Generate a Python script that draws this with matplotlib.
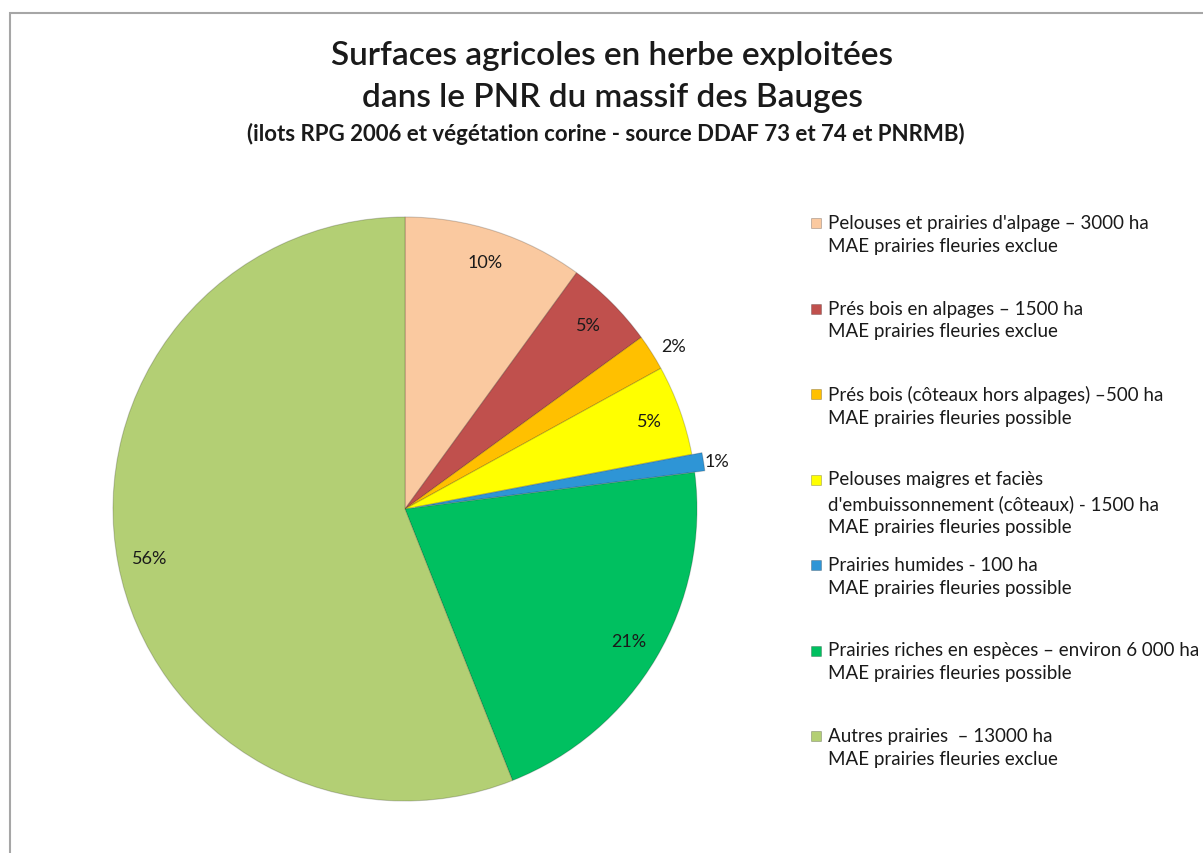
import numpy as np
import matplotlib.pyplot as plt
from matplotlib.patches import Rectangle

# data (percent of grassland area)
categories = [
    "Pelouses et prairies d'alpage – 3000 ha\nMAE prairies fleuries exclue",
    "Prés bois en alpages – 1500 ha\nMAE prairies fleuries exclue",
    "Prés bois (côteaux hors alpages) –500 ha\nMAE prairies fleuries possible",
    "Pelouses maigres et faciès\nd'embuissonnement (côteaux) - 1500 ha\nMAE prairies fleuries possible",
    "Prairies humides - 100 ha\nMAE prairies fleuries possible",
    "Prairies riches en espèces – environ 6 000 ha\nMAE prairies fleuries possible",
    "Autres prairies  – 13000 ha\nMAE prairies fleuries exclue",
]
shares = [10, 5, 2, 5, 1, 21, 56]
colors = ["#FAC9A0", "#C0504D", "#FFC000", "#FFFF00", "#2E95D6", "#00C060", "#B3CF74"]
explode = [0, 0, 0, 0, 0.035, 0, 0]
outside = [False, False, True, False, True, False, False]

FONT = "Lato"
TXT = "#1a1a1a"

W, H = 1203, 854
fig = plt.figure(figsize=(W / 100, H / 100), dpi=100)

# chart frame
fig.patches.append(Rectangle((10 / W, -0.1), 1.2, 1 - 14 / H + 0.1, transform=fig.transFigure,
                             fill=False, edgecolor="#A6A6A6", linewidth=1.5))

# pie axes: center (405, 510) px, radius 292 px
cx, cy, r = 405, 510, 292
side = 620
ax = fig.add_axes([(cx - side / 2) / W, 1 - (cy + side / 2) / H, side / W, side / H])

wedges, _ = ax.pie(shares, colors=colors, explode=explode, startangle=90, counterclock=False,
                   radius=1, wedgeprops=dict(edgecolor="#00000030", linewidth=0.8))
lim = side / 2 / r
ax.set_xlim(-lim, lim)
ax.set_ylim(-lim, lim)
ax.axis("off")

total = sum(shares)
start = 90.0
for w, v, out in zip(wedges, shares, outside):
    mid = start - v / total * 360 / 2
    start -= v / total * 360
    d = 1.04 if out else 0.89
    ha = "left" if out else "center"
    ax.text(d * np.cos(np.radians(mid)), d * np.sin(np.radians(mid)), f"{v}%",
            ha=ha, va="center", fontsize=13, family=FONT, color=TXT)

# title
fig.text(612 / W, 1 - 56 / H, "Surfaces agricoles en herbe exploitées", ha="center", va="center",
         fontsize=24, family=FONT, weight="semibold", color=TXT)
fig.text(612 / W, 1 - 98 / H, "dans le PNR du massif des Bauges", ha="center", va="center",
         fontsize=24, family=FONT, weight="semibold", color=TXT)
fig.text(606 / W, 1 - 134 / H, "(ilots RPG 2006 et végétation corine - source DDAF 73 et 74 et PNRMB)",
         ha="center", va="center", fontsize=16, family=FONT, weight="bold", color=TXT)

# legend, entries evenly spaced
y0, step = 224, 85.5
for i, (lab, col) in enumerate(zip(categories, colors)):
    y = y0 + i * step
    fig.patches.append(Rectangle((811 / W, 1 - (y + 5) / H), 10 / W, 10 / H, transform=fig.transFigure,
                                 facecolor=col, edgecolor="#00000040", linewidth=0.6))
    fig.text(828 / W, 1 - (y - 9) / H, lab, ha="left", va="top", fontsize=13.5, family=FONT,
             color=TXT, linespacing=1.42)

fig.savefig("out.png", dpi=100, facecolor="white")
